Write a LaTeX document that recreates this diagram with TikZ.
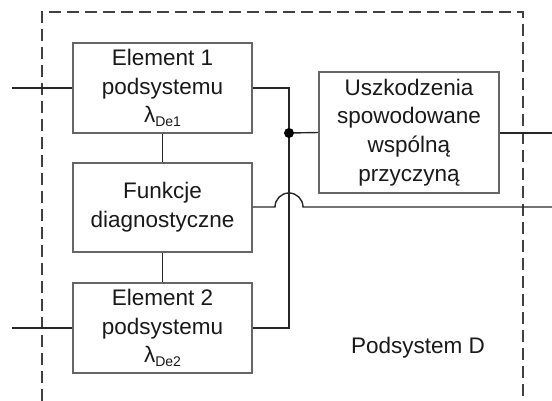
\documentclass[tikz,border=0pt]{standalone}
\usepackage{fontspec}
\setmainfont{Liberation Sans}
\begin{document}
\begin{tikzpicture}[x=1pt,y=-1pt,
  wire/.style={draw=black!85,line width=1.4pt},
  block/.style={draw=black!60,line width=1.8pt,align=center,inner sep=0pt,
    font=\fontsize{22.5}{28.8}\selectfont,text=black!90},
  frame/.style={draw=black!75,line width=1.4pt,dash pattern=on 12pt off 6pt},
  dot/.style={circle,fill=black,inner sep=0pt,minimum size=10pt}]
\useasboundingbox (0,0) rectangle (552,401);

% subsystem boundary (open at the bottom)
\draw[frame] (42,401) -- (42,12) -- (523,12) -- (523,401);

% blocks
\node[block,minimum width=179pt,minimum height=90pt] (e1) at (162.5,88)
  {Element 1\\podsystemu\\λ\raisebox{-4pt}{\fontsize{14}{14}\selectfont De1}};
\node[block,minimum width=179pt,minimum height=89pt] (fd) at (162.5,207.5)
  {Funkcje\\diagnostyczne};
\node[block,minimum width=179pt,minimum height=90pt] (e2) at (162.5,328)
  {Element 2\\podsystemu\\λ\raisebox{-4pt}{\fontsize{14}{14}\selectfont De2}};
\node[block,minimum width=180pt,minimum height=121pt] (cc) at (409,132.5)
  {Uszkodzenia\\spowodowane\\wspólną\\przyczyną};

\node[font=\fontsize{22.5}{28}\selectfont,text=black!90] (lbl) at (418,348) {Podsystem D};

% connection points
\coordinate (in1) at (12,88);
\coordinate (in2) at (12,328);
\coordinate (j) at (289,133);
\coordinate (out1) at (552,133);
\coordinate (out2) at (552,207);
\coordinate (hopL) at (275,207);
\coordinate (hopR) at (303,207);

% wiring
\draw[wire] (in1) -- (e1.west);
\draw[wire] (in2) -- (e2.west);
\draw[wire] (e1.south) -- (fd.north);
\draw[wire] (fd.south) -- (e2.north);
\draw[wire] (e1.east) -| (j);
\draw[wire] (e2.east) -| (j);
\draw[wire] (j) -- (cc.west);
\draw[wire] (cc.east |- j) -- (out1);
\draw[wire] (fd.east |- hopL) -- (hopL) arc[start angle=180,end angle=0,radius=14pt] -- (out2);
\node[dot] at (j) {};
\end{tikzpicture}
\end{document}
